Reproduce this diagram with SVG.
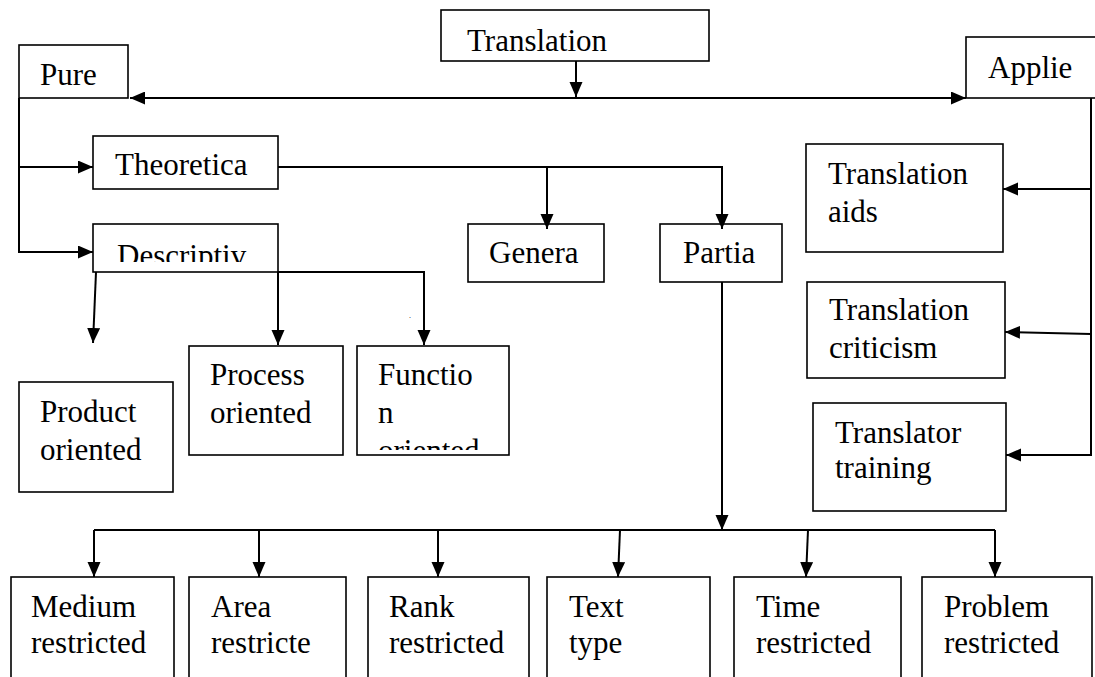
<svg xmlns="http://www.w3.org/2000/svg" width="1095" height="677" viewBox="0 0 1095 677">
<style>
.box{fill:#fff;stroke:#000;stroke-width:1.6}
.c{fill:none;stroke:#000;stroke-width:2}
</style>
<defs>
<marker id="ah" markerUnits="userSpaceOnUse" markerWidth="16" markerHeight="14" refX="15" refY="6.5" orient="auto">
<path d="M0,0 L15,6.5 L0,13 z" fill="#000"/>
</marker>
<marker id="ahs" markerUnits="userSpaceOnUse" markerWidth="16" markerHeight="14" refX="0" refY="6.5" orient="auto">
<path d="M15,0 L0,6.5 L15,13 z" fill="#000"/>
</marker>
</defs>
<rect width="1095" height="677" fill="#fff"/>

<g font-family="Liberation Serif, Times New Roman, serif" font-size="31" fill="#000">
<g id="translation"><rect class="box" x="441" y="10" width="268" height="51"/><text x="467" y="51" font-family="Liberation Serif">Translation</text></g>
<g id="pure"><rect class="box" x="19" y="45" width="109" height="53"/><text x="40" y="85" font-family="Liberation Serif">Pure</text></g>
<g id="applied"><rect class="box" x="966" y="37" width="140" height="61"/><text x="988" y="78" font-family="Liberation Serif">Applie</text></g>
<g id="theoretical"><rect class="box" x="93" y="136" width="185" height="53"/><text x="115" y="175" font-family="Liberation Serif">Theoretica</text></g>
<g id="descriptive"><rect class="box" x="93" y="224" width="185" height="48"/><svg x="93" y="224" width="185" height="38" viewBox="93 224 185 38"><text x="117" y="266" font-family="Liberation Serif">Descriptiv</text></svg></g>
<g id="general"><rect class="box" x="468" y="224" width="136" height="58"/><text x="489" y="263" font-family="Liberation Serif">Genera</text></g>
<g id="partial"><rect class="box" x="660" y="224" width="122" height="58"/><text x="683" y="263" font-family="Liberation Serif">Partia</text></g>
<g id="aids"><rect class="box" x="806" y="144" width="197" height="108"/><text x="828" y="184" font-family="Liberation Serif">Translation</text><text x="828" y="222" font-family="Liberation Serif">aids</text></g>
<g id="criticism"><rect class="box" x="807" y="282" width="198" height="96"/><text x="829" y="320" font-family="Liberation Serif">Translation</text><text x="829" y="358" font-family="Liberation Serif">criticism</text></g>
<g id="training"><rect class="box" x="813" y="403" width="193" height="108"/><text x="835" y="443" font-family="Liberation Serif">Translator</text><text x="835" y="478" font-family="Liberation Serif">training</text></g>
<g id="product"><rect class="box" x="19" y="382" width="154" height="110"/><text x="40" y="422" font-family="Liberation Serif">Product</text><text x="40" y="460" font-family="Liberation Serif">oriented</text></g>
<g id="process"><rect class="box" x="189" y="346" width="154" height="109"/><text x="210" y="385" font-family="Liberation Serif">Process</text><text x="210" y="423" font-family="Liberation Serif">oriented</text></g>
<g id="function"><rect class="box" x="357" y="346" width="152" height="109"/><svg x="357" y="346" width="152" height="104" viewBox="357 346 152 104"><text x="378" y="385" font-family="Liberation Serif">Functio</text><text x="378" y="423" font-family="Liberation Serif">n</text><text x="378" y="461" font-family="Liberation Serif">oriented</text></svg></g>
<g id="medium"><rect class="box" x="11" y="577" width="163" height="120"/><text x="31" y="617" font-family="Liberation Serif">Medium</text><text x="31" y="653" font-family="Liberation Serif">restricted</text></g>
<g id="area"><rect class="box" x="189" y="577" width="157" height="120"/><text x="211" y="617" font-family="Liberation Serif">Area</text><text x="211" y="653" font-family="Liberation Serif">restricte</text></g>
<g id="rank"><rect class="box" x="368" y="577" width="161" height="120"/><text x="389" y="617" font-family="Liberation Serif">Rank</text><text x="389" y="653" font-family="Liberation Serif">restricted</text></g>
<g id="texttype"><rect class="box" x="547" y="577" width="163" height="120"/><text x="569" y="617" font-family="Liberation Serif">Text</text><text x="569" y="653" font-family="Liberation Serif">type</text></g>
<g id="time"><rect class="box" x="734" y="577" width="167" height="120"/><text x="756" y="617" font-family="Liberation Serif">Time</text><text x="756" y="653" font-family="Liberation Serif">restricted</text></g>
<g id="problem"><rect class="box" x="922" y="577" width="170" height="120"/><text x="944" y="617" font-family="Liberation Serif">Problem</text><text x="944" y="653" font-family="Liberation Serif">restricted</text></g>
<text x="409" y="318" font-family="Liberation Serif" font-size="8">.</text>
</g>

<g id="connectors">
<path class="c" d="M576,61 V97" marker-end="url(#ah)"/>
<path class="c" d="M130,98 H966" marker-start="url(#ahs)" marker-end="url(#ah)"/>
<path class="c" d="M19,98 V252 H93" marker-end="url(#ah)"/>
<path class="c" d="M19,167 H93" marker-end="url(#ah)"/>
<path class="c" d="M278,167 H722 V229" marker-end="url(#ah)"/>
<path class="c" d="M547,167 V229" marker-end="url(#ah)"/>
<path class="c" d="M1091,98 V455 H1006" marker-end="url(#ah)"/>
<path class="c" d="M1091,189 H1003" marker-end="url(#ah)"/>
<path class="c" d="M1091,334 L1005,332" marker-end="url(#ah)"/>
<path class="c" d="M278,272 H424 V345" marker-end="url(#ah)"/>
<path class="c" d="M278,272 V345" marker-end="url(#ah)"/>
<path class="c" d="M96,272 L93,343" marker-end="url(#ah)"/>
<path class="c" d="M722,282 V530" marker-end="url(#ah)"/>
<path class="c" d="M94,530 H995"/>
<path class="c" d="M94,530 V577" marker-end="url(#ah)"/>
<path class="c" d="M259,530 V577" marker-end="url(#ah)"/>
<path class="c" d="M438,530 V577" marker-end="url(#ah)"/>
<path class="c" d="M620,530 L618,577" marker-end="url(#ah)"/>
<path class="c" d="M808,530 L806,577" marker-end="url(#ah)"/>
<path class="c" d="M995,530 V577" marker-end="url(#ah)"/>
</g>
</svg>
